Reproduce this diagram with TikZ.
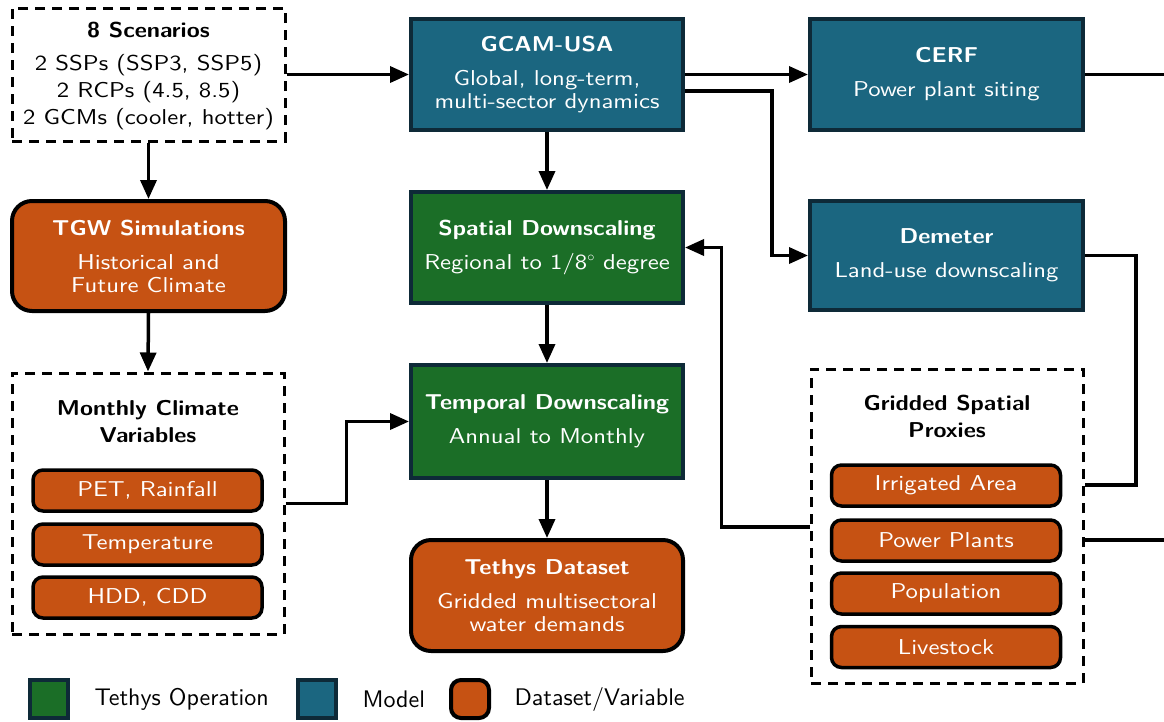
\documentclass[tikz,border=0pt]{standalone}
\usepackage{fontspec}
\setsansfont{lmsans10-regular.otf}[BoldFont=lmsans10-bold.otf, FakeStretch=1.15,
  BoldFeatures={FakeStretch=1.1}]
\newfontfamily\legendfont{lmsans10-regular.otf}
\usetikzlibrary{arrows.meta,calc}
\renewcommand{\familydefault}{\sfdefault}

\definecolor{opgreen}{HTML}{1B6E27}
\definecolor{modblue}{HTML}{1B6680}
\definecolor{dataorange}{HTML}{C65213}
\definecolor{edgenavy}{HTML}{0E2A38}

\tikzset{
  base/.style={minimum width=272pt, inner sep=0pt, align=center, text=white,
    font=\fontsize{21.5}{23}\selectfont},
  modelbox/.style={base, fill=modblue, draw=edgenavy, line width=4pt},
  opbox/.style={base, fill=opgreen, draw=edgenavy, line width=4pt},
  databox/.style={base, fill=dataorange, draw=black, line width=4pt, rounded corners=20pt},
  itembox/.style={base, minimum width=229pt, minimum height=41pt, fill=dataorange,
    draw=black, line width=3.5pt, rounded corners=10pt},
  group/.style={draw=black, line width=3pt, dash pattern=on 10pt off 7pt, inner sep=0pt},
  grouptitle/.style={align=center, font=\fontsize{21.5}{27}\selectfont\bfseries},
  arr/.style={line width=3.5pt, -{Triangle[length=19pt,width=16pt]}},
  link/.style={line width=3.5pt},
  legendtext/.style={anchor=west, font=\legendfont\fontsize{24}{26}\selectfont},
}
\newcommand{\hd}[1]{{\fontsize{21.5}{28}\selectfont\bfseries #1}}

\begin{document}
\begin{tikzpicture}[x=1pt, y=-1pt]
\useasboundingbox (0,0) rectangle (1164,721);

% scenario inputs
\node[group, minimum width=273pt, minimum height=133pt] (scen) at (148.5,74.5) {};
\node[align=center, font=\fontsize{21.5}{27}\selectfont, anchor=north] (scentxt) at (148.5,19)
  {\hd{8 Scenarios}\\[6pt] 2 SSPs (SSP3, SSP5)\\ 2 RCPs (4.5, 8.5)\\ 2 GCMs (cooler, hotter)};

% models
\node[modelbox, minimum height=111pt] (gcam) at (547,74.5)
  {\hd{GCAM-USA}\\[11pt] Global, long-term,\\ multi-sector dynamics};
\node[modelbox, minimum width=273pt, minimum height=111pt] (cerf) at (946.5,74.5)
  {\hd{CERF}\\[11pt] Power plant siting};
\node[modelbox, minimum width=273pt, minimum height=109pt] (dem) at (946.5,255.5)
  {\hd{Demeter}\\[11pt] Land-use downscaling};

% Tethys operations
\node[opbox, minimum height=111pt] (spat) at (547,247.5)
  {\hd{Spatial Downscaling}\\[11pt] Regional to 1/8$^\circ$ degree};
\node[opbox, minimum height=113pt] (temp) at (547,421.5)
  {\hd{Temporal Downscaling}\\[11pt] Annual to Monthly};

% datasets
\node[databox, minimum width=273pt, minimum height=110pt] (tgw) at (148.5,256)
  {\hd{TGW Simulations}\\[11pt] Historical and\\ Future Climate};
\node[databox, minimum height=111pt] (teth) at (547,595.5)
  {\hd{Tethys Dataset}\\[11pt] Gridded multisectoral\\ water demands};

% monthly climate variables
\node[group, minimum width=272pt, minimum height=261pt] (clim) at (148,503.5) {};
\node[grouptitle, anchor=north] (climtxt) at (148,397) {Monthly Climate\\Variables};
\node[itembox] (pet) at (147.5,490.5) {PET, Rainfall};
\node[itembox] (tas) at (147.5,544.5) {Temperature};
\node[itembox] (hdd) at (147.5,597.5) {HDD, CDD};

% gridded spatial proxies
\node[group, minimum width=272pt, minimum height=314pt] (grid) at (947,526) {};
\node[grouptitle, anchor=north] (gridtxt) at (947,392) {Gridded Spatial\\Proxies};
\node[itembox] (irr) at (946,485.5) {Irrigated Area};
\node[itembox] (pow) at (946,540.5) {Power Plants};
\node[itembox] (pop) at (946,593.5) {Population};
\node[itembox] (liv) at (946,647) {Livestock};

% free ends at the right border
\coordinate (cerfout) at (1164,74.5);
\coordinate (gridout) at (1164,540);

% connectors
\draw[arr] (scen.east) -- (gcam.west);
\draw[arr] (gcam.east) -- (cerf.west);
\draw[arr] ([yshift=-16.5pt]gcam.east) -- ++(87,0) |- (dem.west);
\draw[link] (cerf.east) -- (cerfout);
\draw[link] (dem.east) -- ++(51,0) |- ([yshift=41pt]grid.east);
\draw[link] ([yshift=-14pt]grid.east) -- (gridout);
\draw[arr] ([yshift=-1pt]grid.west) -- ++(-88,0) |- (spat.east);
\draw[arr] (gcam.south) -- (spat.north);
\draw[arr] (spat.south) -- (temp.north);
\draw[arr] (temp.south) -- (teth.north);
\draw[arr] (scen.south) -- (tgw.north);
\draw[arr] (tgw.south) -- (clim.north);
\draw[arr] (clim.east) -- ++(61,0) |- (temp.west);

% legend
\node[opbox, minimum width=38pt, minimum height=38pt] (lgop) at (49,699) {};
\node[legendtext] (lgoptxt) at (91,699) {Tethys Operation};
\node[modelbox, minimum width=38pt, minimum height=38pt] (lgmod) at (316.5,699) {};
\node[legendtext] (lgmodtxt) at (359,699) {Model};
\node[databox, minimum width=38pt, minimum height=38pt, rounded corners=10pt] (lgdat) at (470,699) {};
\node[legendtext] (lgdattxt) at (511,699) {Dataset/Variable};
\end{tikzpicture}
\end{document}
